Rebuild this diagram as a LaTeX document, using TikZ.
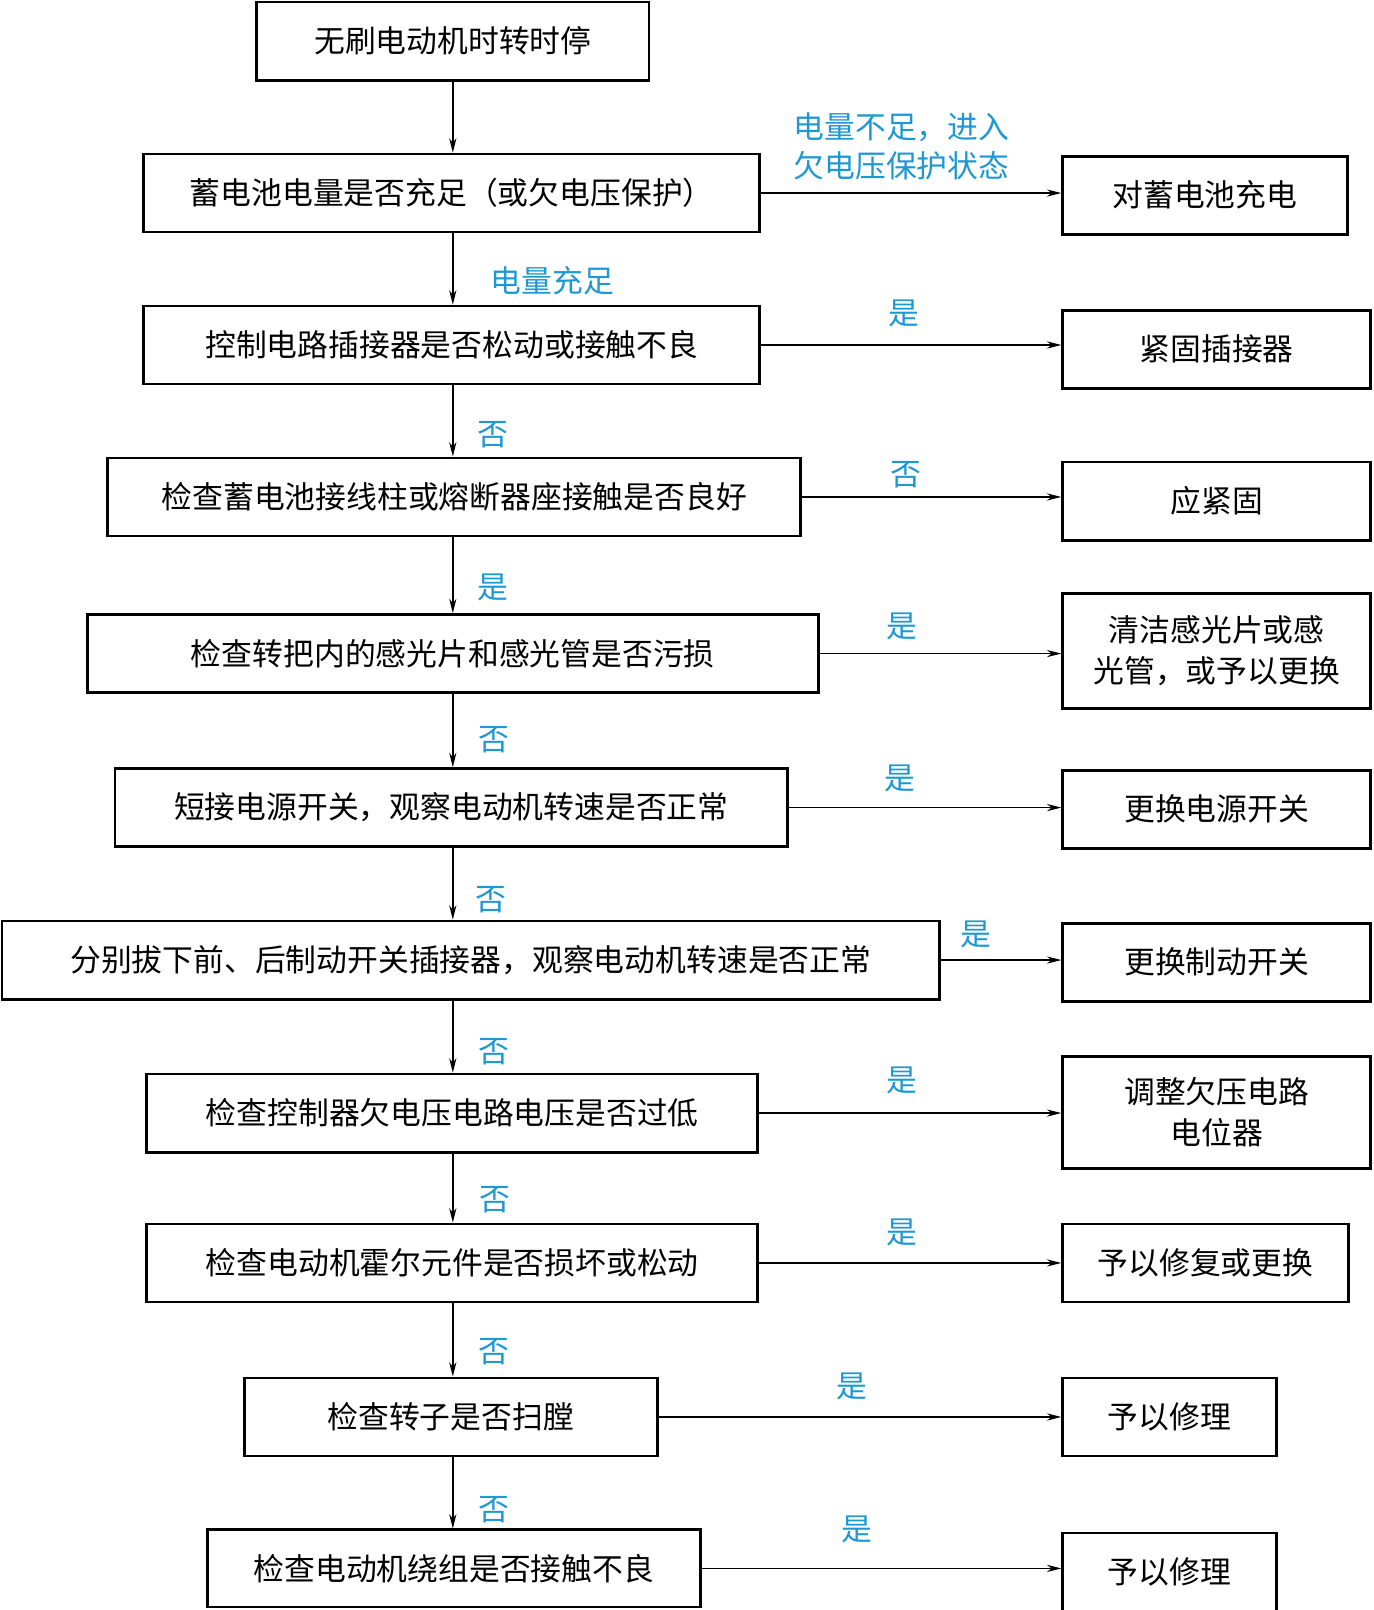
\documentclass[tikz,border=0pt]{standalone}
\usepackage{fontspec}
\newfontfamily\cjk{Noto Sans CJK SC}
\usepackage{xcolor}
\usepackage{tikz}
\usetikzlibrary{arrows.meta, calc}
\definecolor{lblBlue}{RGB}{30,152,210}

\begin{document}
\begin{tikzpicture}[
    x=0.5pt, y=-0.5pt,
    box/.style={rectangle, draw=black, line width=1.4pt, fill=white, minimum width=#1, minimum height=38pt, inner sep=0pt, align=center, font=\cjk\fontsize{15}{20}\selectfont},
    tag/.style={text=lblBlue, align=center, inner sep=0pt, font=\cjk\fontsize{15}{19}\selectfont},
    arrow/.style={-{Stealth[length=7pt, width=3.5pt]}, line width=0.7pt}
]
\useasboundingbox[fill=white] (0,0) rectangle (1338,1568);
\coordinate (col) at (441,0);

% Main column
\node[box=191pt] (start) at (441,40) {无刷电动机时转时停};
\node[box=300pt] (battery) at (440,188) {蓄电池电量是否充足（或欠电压保护）};
\node[box=300pt] (plug) at (440,336) {控制电路插接器是否松动或接触不良};
\node[box=337.5pt] (terminal) at (442.5,484) {检查蓄电池接线柱或熔断器座接触是否良好};
\node[box=356pt] (grip) at (441,636.5) {检查转把内的感光片和感光管是否污损};
\node[box=327.5pt] (power) at (439.5,786.5) {短接电源开关，观察电动机转速是否正常};
\node[box=456.5pt] (brake) at (458.5,935) {分别拔下前、后制动开关插接器，观察电动机转速是否正常};
\node[box=297.5pt] (undervolt) at (440.5,1084) {检查控制器欠电压电路电压是否过低};
\node[box=297.5pt] (hall) at (440.5,1230) {检查电动机霍尔元件是否损坏或松动};
\node[box=201pt] (rotor) at (439,1380) {检查转子是否扫膛};
\node[box=240pt, minimum height=37.5pt] (winding) at (442,1527.5) {检查电动机绕组是否接触不良};

% Remedies
\node[box=138.5pt] (charge) at (1173.5,190) {对蓄电池充电};
\node[box=150pt] (fixplug) at (1185,340) {紧固插接器};
\node[box=150pt] (tighten) at (1185,488) {应紧固};
\node[box=150pt, minimum height=56pt] (clean) at (1185,634) {清洁感光片或感\\光管，或予以更换};
\node[box=150pt] (newpower) at (1185,788) {更换电源开关};
\node[box=150pt] (newbrake) at (1185,937) {更换制动开关};
\node[box=150pt, minimum height=54.5pt] (adjust) at (1185,1083.5) {调整欠压电路\\电位器};
\node[box=139pt] (repair) at (1174,1230) {予以修复或更换};
\node[box=104pt] (fixrotor) at (1139,1380) {予以修理};
\node[box=104pt] (fixwinding) at (1139,1531) {予以修理};

% Downward flow
\draw[arrow] (start.south -| col) -- (battery.north -| col);
\draw[arrow] (battery.south -| col) -- (plug.north -| col);
\draw[arrow] (plug.south -| col) -- (terminal.north -| col);
\draw[arrow] (terminal.south -| col) -- (grip.north -| col);
\draw[arrow] (grip.south -| col) -- (power.north -| col);
\draw[arrow] (power.south -| col) -- (brake.north -| col);
\draw[arrow] (brake.south -| col) -- (undervolt.north -| col);
\draw[arrow] (undervolt.south -| col) -- (hall.north -| col);
\draw[arrow] (hall.south -| col) -- (rotor.north -| col);
\draw[arrow] (rotor.south -| col) -- (winding.north -| col);

% Branches to the right
\draw[arrow] (battery.east) -- (battery.east -| charge.west);
\draw[arrow] (plug.east) -- (plug.east -| fixplug.west);
\draw[arrow] (terminal.east) -- (terminal.east -| tighten.west);
\draw[arrow] (grip.east) -- (grip.east -| clean.west);
\draw[arrow] (power.east) -- (power.east -| newpower.west);
\draw[arrow] (brake.east) -- (brake.east -| newbrake.west);
\draw[arrow] (undervolt.east) -- (undervolt.east -| adjust.west);
\draw[arrow] (hall.east) -- (hall.east -| repair.west);
\draw[arrow] (rotor.east) -- (rotor.east -| fixrotor.west);
\draw[arrow] (winding.east) -- (winding.east -| fixwinding.west);

% Labels
\node[tag] (lowcharge) at (878,143) {电量不足，进入\\欠电压保护状态};
\node[tag] (fullcharge) at (538,273) {电量充足};
\node[tag] (yesPlug) at (880,305) {是};
\node[tag] (noPlug) at (480,423) {否};
\node[tag] (noTerm) at (882,462) {否};
\node[tag] (yesTerm) at (480,572) {是};
\node[tag] (yesGrip) at (878,610) {是};
\node[tag] (noGrip) at (481,720) {否};
\node[tag] (yesPower) at (876,758) {是};
\node[tag] (noPower) at (478,876) {否};
\node[tag] (yesBrake) at (950,910) {是};
\node[tag] (noBrake) at (481,1024) {否};
\node[tag] (yesUnder) at (878,1052) {是};
\node[tag] (noUnder) at (482,1168) {否};
\node[tag] (yesHall) at (878,1200) {是};
\node[tag] (noHall) at (481,1316) {否};
\node[tag] (yesRotor) at (830,1350) {是};
\node[tag] (noRotor) at (481,1470) {否};
\node[tag] (yesWinding) at (835,1490) {是};

\end{tikzpicture}
\end{document}
